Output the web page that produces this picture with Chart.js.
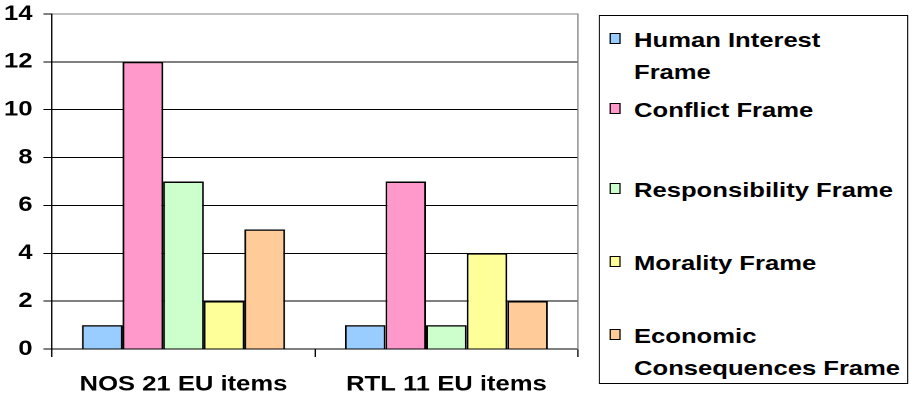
<!DOCTYPE html>
<html>
<head>
<meta charset="utf-8">
<script src="https://cdn.jsdelivr.net/npm/chart.js@4/dist/chart.umd.min.js"></script>
<style>
	html, body { margin: 0; padding: 0; background: #fff; overflow: hidden; }
	/* the original picture is stretched sideways, so everything is laid out narrower and scaled */
	#Stage { position: absolute; left: 0; top: 0; width: 748px; height: 401px; transform: scaleX(1.21925); transform-origin: 0 0; }
	#ChartBox { position: absolute; left: 0; top: 0; width: 748px; height: 401px; }
	#LegendDiv { position: absolute; left: 491px; top: 15px; width: 254px; height: 369px; border: 1px solid #000; box-sizing: border-box; background: #fff; }
	.legItem { position: absolute; left: 0; font: bold 21px "Liberation Sans", Arial, sans-serif; line-height: 32px; color: #000; }
	.legBox { position: absolute; left: 8px; top: 9px; width: 9px; height: 11px; border: 1px solid #000; box-sizing: border-box; }
	.legText { position: absolute; left: 28px; top: 0; white-space: pre; }
</style>
</head>
<body>
<div id="Stage">
	<div id="ChartBox"><canvas id="BarChart"></canvas></div>
	<div id="LegendDiv"></div>
</div>
<script>
var Categories = ['NOS 21 EU items', 'RTL 11 EU items'];
var SeriesNames = ['Human Interest\nFrame', 'Conflict Frame', 'Responsibility Frame', 'Morality Frame', 'Economic\nConsequences Frame'];
var HumanInterest = [1, 1];
var Conflict = [12, 7];
var Responsibility = [7, 1];
var Morality = [2, 4];
var EconomicConseq = [5, 2];
var YTicks = [0, 2, 4, 6, 8, 10, 12, 14];

var SeriesValues = [HumanInterest, Conflict, Responsibility, Morality, EconomicConseq];
var SeriesColors = ['#99CCFF', '#FF99CC', '#CCFFCC', '#FFFF99', '#FFCC99'];
var LegendTops = [8, 78, 158, 231, 304];

var fontFam = '"Liberation Sans", Arial, sans-serif';

var datasets = [];
for(let i=0; i<SeriesValues.length; i++){
	datasets.push({
		label: SeriesNames[i].replace('\n', ' '),
		data: SeriesValues[i],
		backgroundColor: SeriesColors[i],
		borderColor: '#000',
		borderWidth: 1.5,
		categoryPercentage: 0.772,
		barPercentage: 1
	});
}

new Chart(document.getElementById('BarChart'), {
	type: 'bar',
	data: {
		labels: Categories,
		datasets: datasets
	},
	options: {
		responsive: true,
		maintainAspectRatio: false,
		animation: false,
		devicePixelRatio: 2,
		layout: { padding: { top: 14, right: 274, bottom: 0, left: 0 } },
		plugins: { legend: { display: false }, tooltip: { enabled: false } },
		scales: {
			x: {
				grid: { offset: true, drawOnChartArea: false, color: '#000', tickLength: 8, lineWidth: 1 },
				border: { color: '#000', width: 1 },
				ticks: { color: '#000', padding: 15, font: { family: fontFam, size: 21, weight: 'bold' }, maxRotation: 0 },
				afterFit: function(s){ s.height = 52; }
			},
			y: {
				min: 0,
				max: 14,
				afterBuildTicks: function(s){ s.ticks = YTicks.map(v => ({ value: v })); },
				grid: {
					color: function(c){ return c.tick && c.tick.value === 14 ? '#808080' : '#000'; },
					tickColor: '#000',
					tickLength: 7,
					lineWidth: 1
				},
				border: { color: '#000', width: 1 },
				ticks: { color: '#000', padding: 9, font: { family: fontFam, size: 21, weight: 'bold' } },
				afterFit: function(s){ s.width = 42.65; s.paddingTop = 0; s.paddingBottom = 0; }
			},
			yRight: {
				position: 'right',
				min: 0,
				max: 14,
				grid: { display: false, drawTicks: false },
				border: { display: true, color: '#808080', width: 1 },
				ticks: { display: false },
				afterFit: function(s){ s.width = 0; s.paddingTop = 0; s.paddingBottom = 0; }
			}
		}
	}
});

// legend drawn as html so the wrapped names stay real text
var legendDiv = document.getElementById('LegendDiv');
for(let i=0; i<SeriesNames.length; i++){
	var item = document.createElement('div');
	item.className = 'legItem';
	item.style.top = LegendTops[i] + 'px';
	var box = document.createElement('div');
	box.className = 'legBox';
	box.style.backgroundColor = SeriesColors[i];
	var txt = document.createElement('div');
	txt.className = 'legText';
	txt.textContent = SeriesNames[i];
	item.appendChild(box);
	item.appendChild(txt);
	legendDiv.appendChild(item);
}
</script>
</body>
</html>
